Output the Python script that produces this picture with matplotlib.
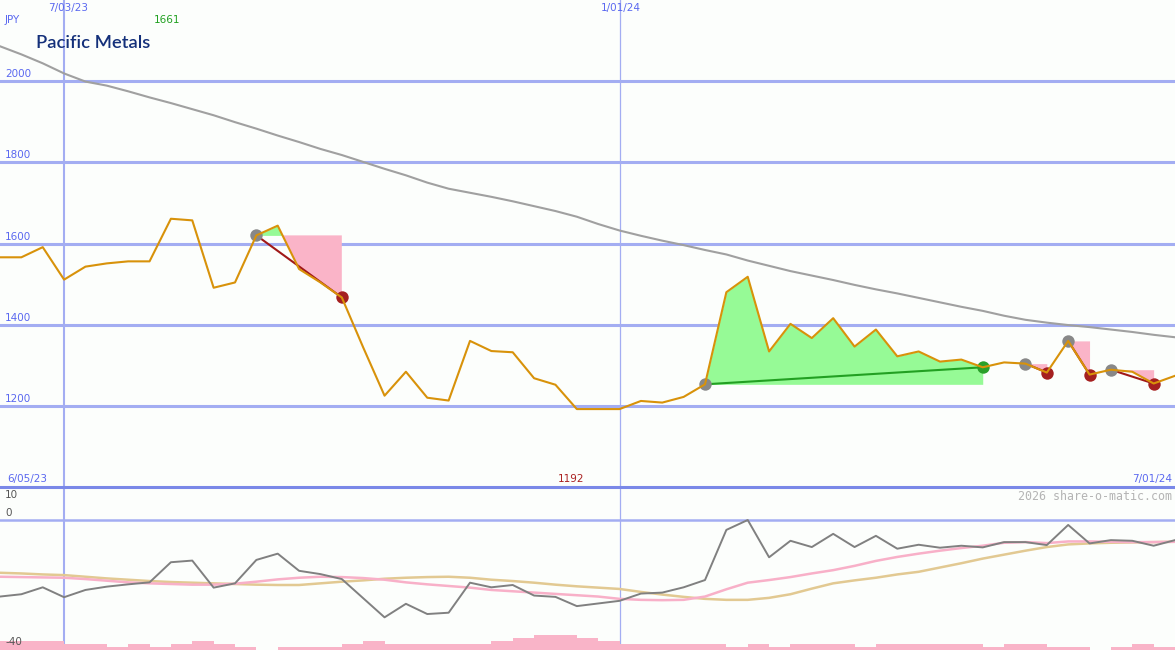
# Pacific Metals - weekly price chart with signal zones and oscillator panel
import matplotlib
matplotlib.use('Agg')
import matplotlib.pyplot as plt
import matplotlib.dates as mdates
import numpy as np
import pandas as pd

# === Data (weekly, JPY) ===
dates = pd.date_range('2023-06-12', periods=56, freq='W-MON')

close = [1566, 1566, 1591, 1511, 1543, 1551, 1556, 1556, 1661, 1657,
         1491, 1504, 1620, 1644, 1537, 1504, 1467, 1344, 1225, 1284,
         1220, 1213, 1360, 1335, 1332, 1268, 1252, 1192, 1192, 1192,
         1212, 1208, 1222, 1253, 1480, 1518, 1334, 1402, 1367, 1416,
         1346, 1388, 1322, 1334, 1309, 1314, 1295, 1307, 1304, 1282,
         1360, 1277, 1289, 1284, 1255, 1274]

ma_long = [2086, 2066, 2044, 2019, 1999, 1989, 1975, 1960, 1946, 1931,
           1916, 1899, 1883, 1866, 1850, 1833, 1818, 1801, 1784, 1768,
           1750, 1735, 1725, 1715, 1704, 1692, 1680, 1666, 1648, 1632,
           1619, 1607, 1596, 1584, 1573, 1558, 1545, 1532, 1521, 1510,
           1498, 1487, 1477, 1466, 1455, 1444, 1434, 1422, 1412, 1405,
           1399, 1394, 1388, 1382, 1375, 1369]

osc = [-23.2, -22.5, -20.4, -23.4, -21.2, -20.2, -19.5, -18.9, -12.8, -12.3,
       -20.5, -19.2, -12.1, -10.2, -15.4, -16.4, -17.9, -23.7, -29.5, -25.4,
       -28.5, -28.1, -19.0, -20.4, -19.7, -22.9, -23.3, -26.1, -25.3, -24.5,
       -22.3, -22.0, -20.4, -18.2, -3.0, 0.0, -11.3, -6.3, -8.2, -4.2,
       -8.2, -4.8, -8.7, -7.5, -8.4, -7.8, -8.3, -6.7, -6.7, -7.6,
       -1.5, -7.1, -6.1, -6.3, -7.8, -6.1]

osc_fast = [-17.2, -17.3, -17.4, -17.5, -17.9, -18.4, -18.9, -19.2, -19.4, -19.6,
            -19.6, -19.3, -18.7, -18.0, -17.5, -17.2, -17.3, -17.6, -18.1, -18.9,
            -19.5, -20.0, -20.5, -21.2, -21.6, -22.0, -22.4, -22.8, -23.2, -23.9,
            -24.2, -24.3, -24.2, -23.2, -21.0, -19.0, -18.2, -17.3, -16.2, -15.2,
            -13.9, -12.4, -11.2, -10.2, -9.3, -8.5, -7.8, -6.9, -6.7, -7.0,
            -6.5, -6.5, -6.6, -6.7, -6.7, -6.6]

osc_slow = [-16.0, -16.2, -16.5, -16.7, -17.2, -17.7, -18.1, -18.5, -18.8, -19.0,
            -19.2, -19.4, -19.6, -19.7, -19.7, -19.2, -18.7, -18.3, -17.8, -17.5,
            -17.3, -17.2, -17.5, -18.1, -18.5, -19.0, -19.6, -20.1, -20.5, -20.9,
            -21.8, -22.6, -23.3, -23.9, -24.2, -24.2, -23.6, -22.5, -20.8, -19.2,
            -18.3, -17.5, -16.5, -15.7, -14.4, -13.1, -11.7, -10.5, -9.3, -8.2,
            -7.4, -7.1, -6.9, -6.8, -6.7, -6.6]

# relative weekly volume
volume = [3, 3, 3, 2, 2, 1, 2, 1, 2, 3,
          2, 1, 0, 1, 1, 1, 2, 3, 2, 2,
          2, 2, 2, 3, 4, 5, 5, 4, 3, 2,
          2, 2, 2, 2, 1, 2, 1, 2, 2, 2,
          1, 2, 2, 2, 2, 2, 1, 2, 2, 1,
          1, 0, 1, 2, 1, 1]

# signal zones: start week -> end week
sig_start = [12, 33, 48, 50, 52]
sig_end = [16, 46, 49, 51, 54]

price_ticks = [1200, 1400, 1600, 1800, 2000]
osc_ticks = [10, 0]
marker_dates = ['2023-07-03', '2024-01-01']
marker_labels = ['7/03/23', '1/01/24']

# === Colours ===
bg = '#fcfefc'
grid_blue = '#a3adf2'
label_blue = '#5a68f0'
fs = 7.5

x = mdates.date2num(dates)
px = np.array(close, dtype=float)

fig = plt.figure(figsize=(11.75, 6.5), dpi=100)
fig.patch.set_facecolor(bg)
ax = fig.add_axes([0, 163 / 650, 1, 487 / 650])
ax2 = fig.add_axes([0, 0, 1, 163 / 650])
ax3 = ax2.twinx()
for a in (ax, ax2, ax3):
    a.set_axis_off()
    a.set_xlim(x[0], x[-1])
ax.set_ylim(1000, 2200)
ax2.set_ylim(-39.4, 10)
ax3.set_ylim(0, 54)

# === Price panel ===
for v in price_ticks:
    ax.axhline(v, color=grid_blue, lw=2.2, zorder=1)
    ax.annotate(str(v), xy=(0, v), xycoords=('axes fraction', 'data'),
                xytext=(5, 2), textcoords='offset pixels', ha='left', va='bottom',
                fontsize=fs, color=label_blue)

for d, lab, w, dx in zip(marker_dates, marker_labels, [1.5, 0.9], [4, 1]):
    xd = mdates.date2num(pd.Timestamp(d))
    ax.axvline(xd, color=grid_blue, lw=w, zorder=1)
    ax2.axvline(xd, color=grid_blue, lw=w, zorder=1)
    ax.annotate(lab, xy=(xd, 1), xycoords=('data', 'axes fraction'),
                xytext=(dx, -8), textcoords='offset pixels', ha='center', va='center',
                fontsize=fs, color=label_blue)

ax.plot(x, ma_long, color='#a0a0a0', lw=1.5, zorder=2)

for s, e in zip(sig_start, sig_end):
    xs = x[s:e + 1]
    ys = px[s:e + 1]
    lvl = px[s]
    ax.fill_between(xs, lvl, ys, where=ys >= lvl, interpolate=True,
                    color='#96fa96', lw=0, zorder=2)
    ax.fill_between(xs, lvl, ys, where=ys <= lvl, interpolate=True,
                    color='#fab4c8', lw=0, zorder=2)
    up = px[e] > lvl
    ax.plot([x[s], x[e]], [lvl, px[e]], color='#22a022' if up else '#a01818',
            lw=1.5, zorder=3)
    ax.scatter([x[s]], [lvl], s=80, color='#888888', zorder=4, lw=0)
    ax.scatter([x[e]], [px[e]], s=80, color='#2aa02a' if up else '#a52020',
               zorder=4, lw=0)

ax.plot(x, close, color='#d8920a', lw=1.5, zorder=5)

# high / low labels
i_hi = int(np.argmax(px))
i_lo = int(np.argmin(px))
ax.annotate(str(close[i_hi]), xy=(x[i_hi], 1), xycoords=('data', 'axes fraction'),
            xytext=(-4, -20), textcoords='offset pixels', ha='center', va='center',
            fontsize=fs, color='#20a020')
ax.annotate(str(close[i_lo]), xy=(x[i_lo], 0), xycoords=('data', 'axes fraction'),
            xytext=(-6, 8), textcoords='offset pixels', ha='center', va='center',
            fontsize=fs, color='#aa2020')

ax.annotate('JPY', xy=(0, 1), xycoords='axes fraction', xytext=(5, -20),
            textcoords='offset pixels', ha='left', va='center', fontsize=fs, color=label_blue)
ax.annotate('6/05/23', xy=(0, 0), xycoords='axes fraction', xytext=(7, 8),
            textcoords='offset pixels', ha='left', va='center', fontsize=fs, color=label_blue)
ax.annotate('7/01/24', xy=(1, 0), xycoords='axes fraction', xytext=(-3, 8),
            textcoords='offset pixels', ha='right', va='center', fontsize=fs, color=label_blue)

fig.text(36 / 1175, 1 - 43 / 650, 'Pacific Metals', fontsize=13.2, family='Lato',
         fontweight='semibold', color='#14307a', ha='left', va='center')

# === Oscillator panel ===
ax2.axhline(10, color='#7a88e8', lw=2.2, zorder=6, clip_on=False)
ax2.axhline(0, color=grid_blue, lw=1.8, zorder=1)
ax3.bar(x[:-1], volume[:-1], width=np.diff(x), align='edge', color='#f9b4c8', lw=0)
ax2.plot(x, osc_slow, color='#e2c992', lw=1.8, zorder=3)
ax2.plot(x, osc_fast, color='#f8b0c8', lw=1.8, zorder=3)
ax2.plot(x, osc, color='#808080', lw=1.4, zorder=4)

for v, dy in zip(osc_ticks, [-8, 7]):
    ax2.annotate(str(v), xy=(0, v), xycoords=('axes fraction', 'data'),
                 xytext=(5, dy), textcoords='offset pixels', ha='left', va='center',
                 fontsize=fs, color='#555555')
# drawn on the volume axes so it sits above the bars
ax3.annotate('-40', xy=(0, 0), xycoords='axes fraction', xytext=(5, 8),
             textcoords='offset pixels', ha='left', va='center', fontsize=fs,
             color='#555555', zorder=10)

ax2.annotate('2026 share-o-matic.com', xy=(1, 1), xycoords='axes fraction',
             xytext=(-3, -10), textcoords='offset pixels', ha='right', va='center',
             fontsize=8.4, family='DejaVu Sans Mono', color='#b4b4b4')

plt.savefig('out.png', dpi=100, facecolor=bg)
